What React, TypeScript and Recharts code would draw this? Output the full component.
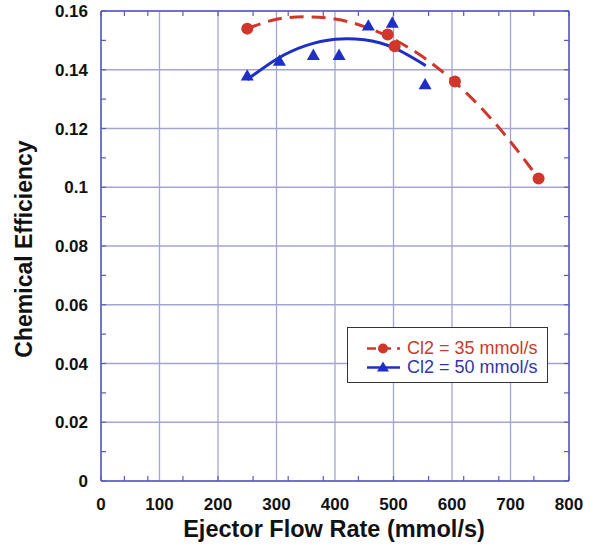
import React from 'react';
import {
  ComposedChart,
  Line,
  Scatter,
  XAxis,
  YAxis,
  CartesianGrid,
  Legend,
} from 'recharts';

// measured points
const cl35Points = [
  { x: 250, y: 0.154 },
  { x: 490, y: 0.152 },
  { x: 502, y: 0.148 },
  { x: 605, y: 0.136 },
  { x: 748, y: 0.103 },
];
const cl50Points = [
  { x: 250, y: 0.138 },
  { x: 305, y: 0.143 },
  { x: 363, y: 0.145 },
  { x: 407, y: 0.145 },
  { x: 457, y: 0.155 },
  { x: 498, y: 0.156 },
  { x: 554, y: 0.135 },
];

// fit curves
const cl35Fit = [
  { x: 250, y: 0.154 },
  { x: 300, y: 0.1572 },
  { x: 350, y: 0.158 },
  { x: 400, y: 0.1573 },
  { x: 450, y: 0.1547 },
  { x: 500, y: 0.1504 },
  { x: 550, y: 0.1444 },
  { x: 600, y: 0.1366 },
  { x: 650, y: 0.127 },
  { x: 700, y: 0.1155 },
  { x: 748, y: 0.103 },
];
const cl50Fit = [
  { x: 250, y: 0.1366 },
  { x: 300, y: 0.1436 },
  { x: 350, y: 0.1482 },
  { x: 400, y: 0.1504 },
  { x: 450, y: 0.1502 },
  { x: 500, y: 0.1475 },
  { x: 555, y: 0.1414 },
];

const xTicks = [0, 100, 200, 300, 400, 500, 600, 700, 800];
const yTicks = [0, 0.02, 0.04, 0.06, 0.08, 0.1, 0.12, 0.14, 0.16];
const xMinor = Array.from({ length: 41 }, (_, i) => i * 20);
const yMinor = Array.from({ length: 33 }, (_, i) => (i * 5) / 1000);

const RED = '#d0362a';
const BLUE = '#1f2fc4';
const AXIS = '#5a5ac0';
const GRID = '#a4a4d4';
const FONT = '"Liberation Sans", Arial, Helvetica, sans-serif';

const Triangle = (props: any) => {
  const { cx, cy } = props;
  const s = 6.5;
  return (
    <polygon
      points={`${cx},${cy - s} ${cx - s},${cy + s * 0.75} ${cx + s},${cy + s * 0.75}`}
      fill={BLUE}
    />
  );
};

const Dot = (props: any) => <circle cx={props.cx} cy={props.cy} r={6} fill={RED} />;

const NoTick = () => <g />;
const Nothing = () => <g />;

const YLabel = (props: any) => {
  const vb = props.viewBox;
  const cx = vb.x + 24;
  const cy = vb.y + vb.height / 2 + 3;
  return (
    <text
      x={cx}
      y={cy}
      transform={`rotate(-90, ${cx}, ${cy})`}
      textAnchor="middle"
      dominantBaseline="central"
      fontSize={23}
      fontWeight="bold"
      fill="#111"
      fontFamily={FONT}
    >
      Chemical Efficiency
    </text>
  );
};

const LegendBox = () => (
  <div
    style={{
      border: '1.5px solid #333',
      background: '#fff',
      width: 201,
      height: 56,
      boxSizing: 'border-box',
      fontFamily: FONT,
      fontSize: 18,
      paddingTop: 11,
    }}
  >
    <div style={{ display: 'flex', alignItems: 'center', height: 19 }}>
      <svg width={59} height={19}>
        <line x1={19} y1={9.5} x2={52} y2={9.5} stroke={RED} strokeWidth={2.5} strokeDasharray="9 6" />
        <circle cx={35} cy={9.5} r={5} fill={RED} />
      </svg>
      <span style={{ color: '#c83a2e' }}>Cl2 = 35 mmol/s</span>
    </div>
    <div style={{ display: 'flex', alignItems: 'center', height: 19 }}>
      <svg width={59} height={19}>
        <line x1={19} y1={9.5} x2={52} y2={9.5} stroke={BLUE} strokeWidth={2.5} />
        <polygon points="35,3.5 29,13.5 41,13.5" fill={BLUE} />
      </svg>
      <span style={{ color: '#3434a8' }}>Cl2 = 50 mmol/s</span>
    </div>
  </div>
);

export default function App() {
  return (
    <div style={{ width: 597, height: 548, background: '#fff' }}>
      <style>{'body { margin: 0; }'}</style>
      <ComposedChart
        width={597}
        height={548}
        margin={{ top: 11, right: 28, bottom: 0, left: 0 }}
        style={{ fontFamily: FONT }}
      >
        <CartesianGrid xAxisId="x" yAxisId="y" stroke={GRID} strokeWidth={1.3} />
        <XAxis
          xAxisId="x"
          type="number"
          dataKey="x"
          domain={[0, 800]}
          ticks={xTicks}
          height={67}
          tickLine={false}
          tickMargin={11}
          axisLine={{ stroke: AXIS, strokeWidth: 1.5 }}
          tick={{ fill: '#111', fontSize: 17, fontWeight: 'bold' }}
          label={{
            value: 'Ejector Flow Rate (mmol/s)',
            position: 'insideBottom',
            offset: 11,
            dx: -1,
            style: { fontSize: 23.5, fontWeight: 'bold', fill: '#111' },
          }}
        />
        <XAxis
          xAxisId="xb"
          type="number"
          dataKey="x"
          domain={[0, 800]}
          allowDataOverflow
          ticks={xMinor}
          orientation="bottom"
          mirror
          height={1}
          tick={<NoTick />}
          tickSize={5}
          axisLine={false}
          tickLine={{ stroke: AXIS, strokeWidth: 1.2 }}
        />
        <XAxis
          xAxisId="xt"
          type="number"
          dataKey="x"
          domain={[0, 800]}
          allowDataOverflow
          ticks={xMinor}
          orientation="top"
          mirror
          height={1}
          tick={<NoTick />}
          tickSize={5}
          axisLine={{ stroke: AXIS, strokeWidth: 1.5 }}
          tickLine={{ stroke: AXIS, strokeWidth: 1.2 }}
        />
        <YAxis
          yAxisId="y"
          type="number"
          domain={[0, 0.16]}
          ticks={yTicks}
          width={101}
          tickLine={false}
          tickMargin={7}
          axisLine={{ stroke: AXIS, strokeWidth: 1.5 }}
          tick={{ fill: '#111', fontSize: 17, fontWeight: 'bold' }}
          label={<YLabel />}
        />
        <YAxis
          yAxisId="yl"
          type="number"
          domain={[0, 0.16]}
          allowDataOverflow
          ticks={yMinor}
          orientation="left"
          mirror
          width={1}
          tick={<NoTick />}
          tickSize={5}
          axisLine={false}
          tickLine={{ stroke: AXIS, strokeWidth: 1.2 }}
        />
        <YAxis
          yAxisId="yr"
          type="number"
          domain={[0, 0.16]}
          allowDataOverflow
          ticks={yMinor}
          orientation="right"
          mirror
          width={1}
          tick={<NoTick />}
          tickSize={5}
          axisLine={{ stroke: AXIS, strokeWidth: 1.5 }}
          tickLine={{ stroke: AXIS, strokeWidth: 1.2 }}
        />
        {/* invisible series so the frame axes get a scale */}
        <Scatter
          xAxisId="xb"
          yAxisId="yl"
          data={cl35Points}
          dataKey="y"
          shape={<Nothing />}
          isAnimationActive={false}
          legendType="none"
        />
        <Scatter
          xAxisId="xt"
          yAxisId="yr"
          data={cl35Points}
          dataKey="y"
          shape={<Nothing />}
          isAnimationActive={false}
          legendType="none"
        />
        <Line
          xAxisId="x"
          yAxisId="y"
          data={cl35Fit}
          dataKey="y"
          type="natural"
          stroke={RED}
          strokeWidth={3}
          strokeDasharray="14 8"
          dot={false}
          activeDot={false}
          isAnimationActive={false}
        />
        <Line
          xAxisId="x"
          yAxisId="y"
          data={cl50Fit}
          dataKey="y"
          type="natural"
          stroke={BLUE}
          strokeWidth={3}
          dot={false}
          activeDot={false}
          isAnimationActive={false}
        />
        <Scatter
          xAxisId="x"
          yAxisId="y"
          data={cl35Points}
          dataKey="y"
          shape={<Dot />}
          isAnimationActive={false}
        />
        <Scatter
          xAxisId="x"
          yAxisId="y"
          data={cl50Points}
          dataKey="y"
          shape={<Triangle />}
          isAnimationActive={false}
        />
        <Legend
          layout="vertical"
          align="center"
          verticalAlign="middle"
          content={<LegendBox />}
          wrapperStyle={{ left: 347, top: 327, width: 201, height: 56 }}
        />
      </ComposedChart>
    </div>
  );
}
